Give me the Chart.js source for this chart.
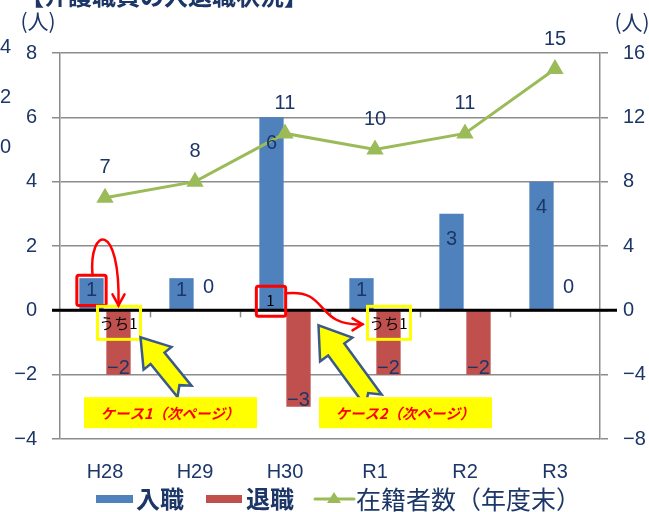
<!DOCTYPE html>
<html lang="ja">
<head>
<meta charset="utf-8">
<title>入職・退職・在籍者数</title>
<script src="https://cdn.jsdelivr.net/npm/chart.js@4/dist/chart.umd.min.js"></script>
<style>
  html, body { margin: 0; padding: 0; background: #ffffff; }
  #wrap { width: 649px; height: 512px; position: relative; }
</style>
</head>
<body>
<div id="wrap"><canvas id="chart" width="649" height="512"></canvas></div>
<script>
// ---- data ----
const years = ['H28', 'H29', 'H30', 'R1', 'R2', 'R3'];
const hired = [1, 1, 6, 1, 3, 4];          // 入職
const retired = [-2, 0, -3, -2, -2, 0];    // 退職
const staff = [7, 8, 11, 10, 11, 15];      // 在籍者数（年度末）
const seriesNames = ['入職', '退職', '在籍者数（年度末）'];
const leftTicks = { min: -4, max: 8, step: 2 };
const rightTicks = { min: -8, max: 16, step: 4 };
const unitLabel = '(人)';
const caseLabels = ['ケース1（次ページ）', 'ケース2（次ページ）'];
const subsetLabel = 'うち1';
const headingText = '【介護職員の入退職状況】';
const sideTicks = ['4', '2', '0'];

// ---- styles ----
const NAVY = '#1C3668';
const BLUE = '#4F81BD';
const RED = '#C0504D';
const GREEN = '#9BBB59';
const GRID = '#8C8C8C';
const NUM_FONT = '"Liberation Sans", Arial, sans-serif';
const JP_FONT = '"Noto Sans CJK JP", "Noto Sans", sans-serif';

const fmt = v => (v < 0 ? '\u2212' + Math.abs(v) : String(v));

function roundRect(ctx, x, y, w, h, r) {
  ctx.beginPath();
  ctx.moveTo(x + r, y);
  ctx.lineTo(x + w - r, y);
  ctx.quadraticCurveTo(x + w, y, x + w, y + r);
  ctx.lineTo(x + w, y + h - r);
  ctx.quadraticCurveTo(x + w, y + h, x + w - r, y + h);
  ctx.lineTo(x + r, y + h);
  ctx.quadraticCurveTo(x, y + h, x, y + h - r);
  ctx.lineTo(x, y + r);
  ctx.quadraticCurveTo(x, y, x + r, y);
  ctx.closePath();
}

// notched block arrow pointing from tail to tip
function blockArrow(ctx, tip, tail, headLen, headW, shaftW, notch) {
  const dx = tail.x - tip.x, dy = tail.y - tip.y;
  const len = Math.hypot(dx, dy);
  const ux = dx / len, uy = dy / len;
  const px = -uy, py = ux;
  const pt = (a, b) => [tip.x + ux * a + px * b, tip.y + uy * a + py * b];
  const pts = [pt(0, 0), pt(headLen, headW / 2), pt(headLen, shaftW / 2), pt(len, shaftW / 2),
               pt(len - notch, 0), pt(len, -shaftW / 2), pt(headLen, -shaftW / 2), pt(headLen, -headW / 2)];
  ctx.beginPath();
  pts.forEach((p, i) => (i ? ctx.lineTo(p[0], p[1]) : ctx.moveTo(p[0], p[1])));
  ctx.closePath();
  ctx.fillStyle = '#FFFF00';
  ctx.fill();
  ctx.strokeStyle = '#3C5A87';
  ctx.lineWidth = 2.5;
  ctx.lineJoin = 'miter';
  ctx.stroke();
}

function curvedArrow(ctx, pts, head) {
  ctx.strokeStyle = '#FF0000';
  ctx.lineWidth = 2.5;
  ctx.lineCap = 'round';
  ctx.beginPath();
  ctx.moveTo(pts[0][0], pts[0][1]);
  ctx.bezierCurveTo(pts[1][0], pts[1][1], pts[2][0], pts[2][1], pts[3][0], pts[3][1]);
  ctx.stroke();
  ctx.beginPath();
  ctx.moveTo(head[0][0], head[0][1]);
  ctx.lineTo(pts[3][0], pts[3][1]);
  ctx.lineTo(head[1][0], head[1][1]);
  ctx.stroke();
}

const overlay = {
  id: 'overlay',
  afterDatasetsDraw(chart) {
    const ctx = chart.ctx;
    const xs = chart.scales.x, yl = chart.scales.y;
    const area = chart.chartArea;
    const zeroY = yl.getPixelForValue(0);
    const cx = i => xs.getPixelForValue(i);
    ctx.save();

    // category tick marks hanging from the zero axis
    ctx.strokeStyle = GRID;
    ctx.lineWidth = 1.5;
    for (let i = 1; i < years.length; i++) {
      const x = Math.round((cx(i - 1) + cx(i)) / 2) + 0.5;
      ctx.beginPath(); ctx.moveTo(x, zeroY); ctx.lineTo(x, zeroY + 7); ctx.stroke();
    }
    // zero axis line
    ctx.strokeStyle = '#000000';
    ctx.lineWidth = 3;
    ctx.beginPath(); ctx.moveTo(area.left - 8, zeroY); ctx.lineTo(area.right + 17, zeroY); ctx.stroke();

    // value labels
    ctx.font = '20px ' + NUM_FONT;
    ctx.fillStyle = NAVY;
    ctx.textAlign = 'center';
    ctx.textBaseline = 'middle';
    chart.getDatasetMeta(0).data.forEach((el, i) => ctx.fillText(fmt(staff[i]), el.x, el.y - 30));
    chart.getDatasetMeta(1).data.forEach((el, i) => {
      const h = el.base - el.y;
      ctx.fillText(fmt(hired[i]), el.x, el.y + Math.min(26, h * 0.4));
    });
    chart.getDatasetMeta(2).data.forEach((el, i) => {
      const v = retired[i];
      ctx.fillText(fmt(v), el.x, v < 0 ? el.y - 6 : el.base - 23);
    });

    // --- case annotations ---
    const hiredMeta = chart.getDatasetMeta(1).data;
    const retMeta = chart.getDatasetMeta(2).data;

    // case 1: H28
    const b0 = hiredMeta[0];
    ctx.strokeStyle = '#FF0000';
    ctx.lineWidth = 3;
    roundRect(ctx, b0.x - b0.width / 2 - 2.5, b0.y - 3, b0.width + 5, b0.base - b0.y - 1, 2);
    ctx.stroke();

    // case 2: H30 box with its own "1"
    const b2 = hiredMeta[2];
    ctx.strokeStyle = '#FF0000';
    roundRect(ctx, b2.x - b2.width / 2 - 3, zeroY - 24, b2.width + 5, 30, 2);
    ctx.stroke();
    ctx.fillStyle = '#000000';
    ctx.font = '15px ' + JP_FONT;
    ctx.fillText('1', b2.x - 1, zeroY - 10);

    // yellow "うち1" boxes over the retirement bars
    [retMeta[0], retMeta[3]].forEach(el => {
      ctx.strokeStyle = '#FFFF00';
      ctx.lineWidth = 3;
      ctx.strokeRect(el.x - 21, zeroY - 4, 43, 33);
      ctx.fillStyle = '#000000';
      ctx.font = '15px ' + JP_FONT;
      ctx.fillText(subsetLabel, el.x, zeroY + 13);
    });

    // red curved arrows
    const r0 = retMeta[0], r3 = retMeta[3];
    curvedArrow(ctx,
      [[b0.x + 1, b0.y - 3], [b0.x - 3, b0.y - 52], [r0.x + 2, b0.y - 58], [r0.x, zeroY - 5]],
      [[r0.x - 6, zeroY - 16], [r0.x + 6, zeroY - 16]]);
    const sx = b2.x + b2.width / 2 + 2, tx = r3.x - 26;
    curvedArrow(ctx,
      [[sx, zeroY - 17], [sx + 44, zeroY - 22], [sx + 28, zeroY + 16], [tx, zeroY + 14]],
      [[tx - 10, zeroY + 8], [tx - 10, zeroY + 20]]);

    // yellow block arrows
    blockArrow(ctx, { x: r0.x + 22, y: zeroY + 27 }, { x: r0.x + 66, y: zeroY + 81 }, 27, 36, 18, 8);
    blockArrow(ctx, { x: r3.x - 70, y: zeroY + 15 }, { x: r3.x - 15, y: zeroY + 90 }, 30, 40, 20, 9);

    // yellow case labels
    ctx.font = 'italic bold 14.5px ' + JP_FONT;
    [[cx(0) - 21, caseLabels[0]], [cx(3) - 56, caseLabels[1]]].forEach(([x, t]) => {
      ctx.fillStyle = '#FFFF00';
      ctx.fillRect(x, yl.getPixelForValue(-2.7), 173, 31);
      ctx.fillStyle = '#FF0000';
      ctx.fillText(t, x + 86, yl.getPixelForValue(-2.7) + 16);
    });

    // unit labels
    ctx.fillStyle = NAVY;
    ctx.font = '21px ' + JP_FONT;
    ctx.fillText(unitLabel, 38, 21);
    ctx.fillText(unitLabel, 632, 22);

    // edge of neighbouring heading and axis
    ctx.font = 'bold 24px ' + JP_FONT;
    ctx.textAlign = 'left';
    ctx.textBaseline = 'alphabetic';
    ctx.fillText(headingText, 20, 5);
    ctx.font = '20px ' + NUM_FONT;
    ctx.textAlign = 'right';
    ctx.textBaseline = 'middle';
    sideTicks.forEach((t, i) => ctx.fillText(t, 11, 47 + i * 50));

    // legend
    const ly = 499;
    ctx.textAlign = 'left';
    ctx.fillStyle = BLUE; ctx.fillRect(96, ly - 4, 37, 8);
    ctx.fillStyle = RED; ctx.fillRect(206, ly - 4, 36, 8);
    ctx.strokeStyle = GREEN; ctx.lineWidth = 3;
    ctx.beginPath(); ctx.moveTo(315, ly); ctx.lineTo(354, ly); ctx.stroke();
    ctx.fillStyle = GREEN;
    ctx.beginPath(); ctx.moveTo(334, ly - 7); ctx.lineTo(341, ly + 4); ctx.lineTo(327, ly + 4); ctx.closePath(); ctx.fill();
    ctx.fillStyle = NAVY;
    ctx.font = 'bold 24px ' + JP_FONT;
    ctx.fillText(seriesNames[0], 136, ly);
    ctx.fillText(seriesNames[1], 246, ly);
    ctx.font = '25px ' + JP_FONT;
    ctx.fillText(seriesNames[2], 356, ly);

    ctx.restore();
  }
};

new Chart(document.getElementById('chart'), {
  data: {
    labels: years,
    datasets: [
      {
        type: 'line', label: seriesNames[2], data: staff, yAxisID: 'y1', order: 0,
        borderColor: GREEN, backgroundColor: GREEN, borderWidth: 3,
        pointStyle: 'triangle', pointRadius: 7, pointBackgroundColor: GREEN, pointBorderColor: GREEN,
        tension: 0
      },
      {
        type: 'bar', label: seriesNames[0], data: hired, yAxisID: 'y', order: 1,
        backgroundColor: BLUE, barPercentage: 0.9, categoryPercentage: 0.6
      },
      {
        type: 'bar', label: seriesNames[1], data: retired, yAxisID: 'y', order: 1,
        backgroundColor: RED, barPercentage: 0.9, categoryPercentage: 0.6
      }
    ]
  },
  options: {
    responsive: false,
    animation: false,
    devicePixelRatio: 1,
    events: [],
    layout: { padding: { top: 53, left: 0, right: 0, bottom: 0 } },
    plugins: { legend: { display: false }, tooltip: { enabled: false } },
    scales: {
      x: {
        grid: { display: false, drawTicks: false },
        border: { display: false },
        ticks: { color: NAVY, font: { family: NUM_FONT, size: 20 }, padding: 21 },
        afterFit: s => { s.height = 73; }
      },
      y: {
        position: 'left',
        min: leftTicks.min, max: leftTicks.max,
        ticks: { stepSize: leftTicks.step, color: NAVY, font: { family: NUM_FONT, size: 20 }, padding: 15, callback: v => fmt(v) },
        grid: { color: GRID, lineWidth: 1.5, tickLength: 8 },
        border: { color: GRID, width: 1.5 },
        afterFit: s => { s.width = 60; }
      },
      y1: {
        position: 'right',
        min: rightTicks.min, max: rightTicks.max,
        ticks: { stepSize: rightTicks.step, color: NAVY, font: { family: NUM_FONT, size: 20 }, padding: 15, callback: v => fmt(v) },
        grid: { drawOnChartArea: false, color: GRID, lineWidth: 1.5, tickLength: 8 },
        border: { color: GRID, width: 1.5 },
        afterFit: s => { s.width = 49; }
      }
    }
  },
  plugins: [overlay]
});
</script>
</body>
</html>
